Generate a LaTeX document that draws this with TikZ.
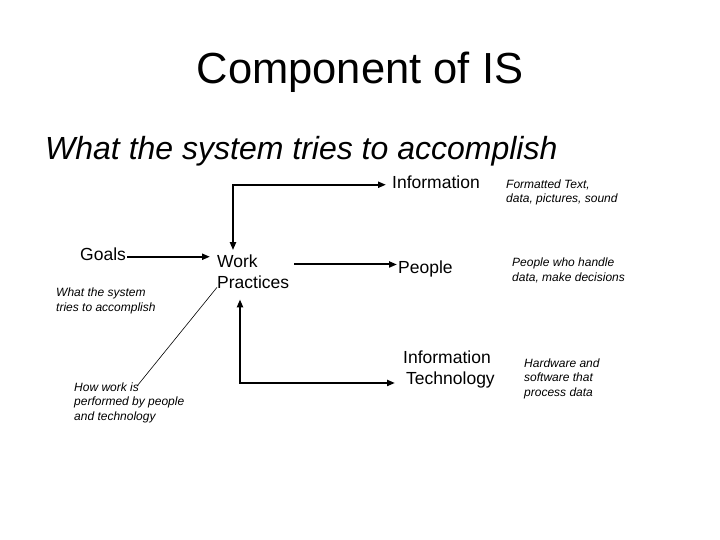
\documentclass[tikz,border=0pt]{standalone}
\usepackage{fontspec}
\setmainfont{Liberation Sans}
\usetikzlibrary{arrows.meta}

\begin{document}
\begin{tikzpicture}[
  x=1pt, y=-1pt,
  comp/.style={inner sep=0pt, anchor=base west, align=left, font=\fontsize{17.5}{21}\selectfont},
  note/.style={inner sep=0pt, anchor=base west, align=left, font=\fontsize{12}{14.5}\selectfont\itshape},
  link/.style={-{Triangle[length=8pt,width=6pt]}, line width=2pt},
  dlink/.style={{Triangle[length=8pt,width=6pt]}-{Triangle[length=8pt,width=6pt]}, line width=2pt},
  pointer/.style={line width=0.6pt}
]
\useasboundingbox (0,0) rectangle (720,540);

% headings
\node[inner sep=0pt, anchor=base, font=\fontsize{43.5}{50}\selectfont] (title) at (360,84) {Component of IS};
\node[inner sep=0pt, anchor=base west, font=\fontsize{32}{38}\selectfont\itshape] (aim) at (45,160) {What the system tries to accomplish};

% components (base = last line)
\node[comp] (goals) at (80,260) {Goals};
\node[comp] (work) at (217,288) {Work\\Practices};
\node[comp] (info) at (392,189) {Information};
\node[comp] (people) at (398,273) {People};
\node[comp] (tech) at (403,384) {Information\\\hspace*{3pt}Technology};

% notes
\node[note] (goalsnote) at (56,311) {What the system\\tries to accomplish};
\node[note] (worknote) at (74,420) {How work is\\performed by people\\and technology};
\node[note] (infonote) at (506,203) {Formatted Text,\\data, pictures, sound};
\node[note] (peoplenote) at (512,281) {People who handle\\data, make decisions};
\node[note] (technote) at (524,396) {Hardware and\\software that\\process data};

% connectors
\draw[link] ([xshift=1pt,yshift=-3pt]goals.east) -- ([xshift=-7pt,yshift=-3pt]work.west |- goals.east);
\draw[dlink] ([xshift=16pt,yshift=4pt]work.north west) |- ([xshift=-6pt,yshift=-2pt]info.west);
\draw[link] ([xshift=5pt,yshift=4pt]work.east |- people.west) -- ([xshift=-1pt,yshift=4pt]people.west);
\draw[dlink] ([xshift=23pt,yshift=-11pt]work.south west) |- ([xshift=-8pt,yshift=-14pt]tech.west);
\draw[pointer] ([xshift=63pt,yshift=-4pt]worknote.north west) -- ([yshift=1pt]work.south west);

\end{tikzpicture}
\end{document}
